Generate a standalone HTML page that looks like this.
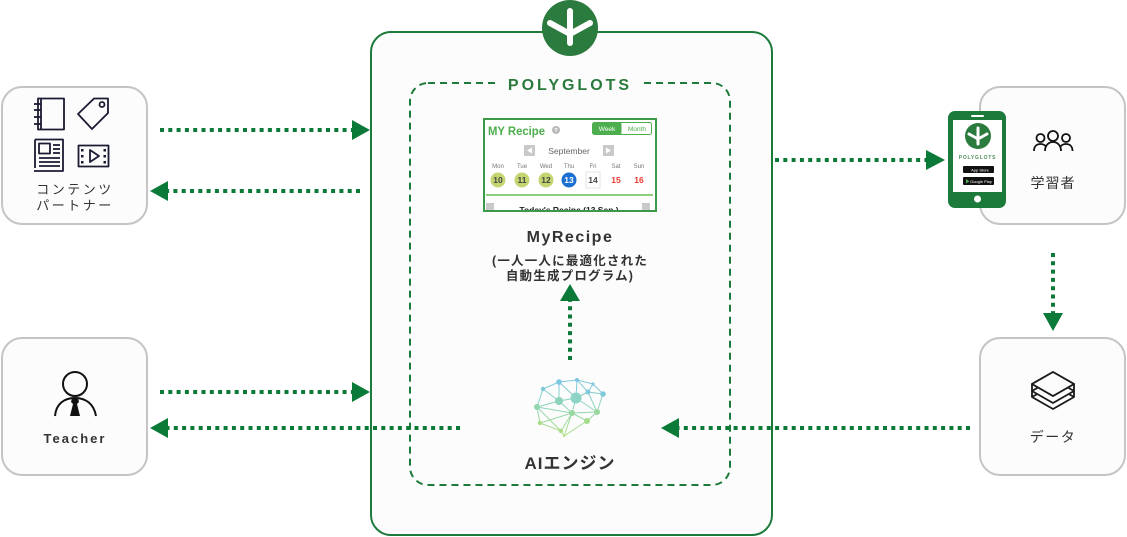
<!DOCTYPE html>
<html>
<head>
<meta charset="utf-8">
<style>
  html,body{margin:0;padding:0;background:#ffffff;}
  body{width:1127px;height:537px;overflow:hidden;}
  svg{display:block;}
  .jp{font-family:"Liberation Sans","Noto Sans CJK JP",sans-serif;}
</style>
</head>
<body>
<svg width="1127" height="537" viewBox="0 0 1127 537" xmlns="http://www.w3.org/2000/svg">
  <defs>
    <linearGradient id="brainG" gradientUnits="userSpaceOnUse" x1="0" y1="378" x2="0" y2="438">
      <stop offset="0" stop-color="#7cc7e2"/>
      <stop offset="0.5" stop-color="#8fd4b8"/>
      <stop offset="1" stop-color="#b2e07c"/>
    </linearGradient>
    <clipPath id="shotClip"><rect x="484" y="119" width="172" height="92"/></clipPath>
  </defs>

  <!-- Main box -->
  <rect x="371" y="32" width="401" height="503" rx="20" ry="20" fill="#fcfcfc" stroke="#1c7a3a" stroke-width="2"/>

  <!-- Logo circle -->
  <circle cx="570" cy="28" r="28" fill="#2b7b3f"/>
  <g stroke="#ffffff" stroke-width="6" stroke-linecap="round" fill="none">
    <line x1="570" y1="11" x2="570" y2="43"/>
    <line x1="570" y1="34" x2="550" y2="23"/>
    <line x1="570" y1="34" x2="590" y2="23"/>
  </g>

  <!-- Inner dashed box -->
  <rect x="410" y="83" width="320" height="402" rx="18" ry="18" fill="none" stroke="#1c7a3a" stroke-width="2" stroke-dasharray="7 5"/>
  <rect x="500" y="72" width="140" height="22" fill="#fcfcfc"/>
  <text x="570" y="90" text-anchor="middle" font-family="Liberation Sans, sans-serif" font-weight="bold" font-size="16" letter-spacing="3" fill="#2a7a3e">POLYGLOTS</text>

  <!-- MyRecipe screenshot -->
  <g clip-path="url(#shotClip)">
    <rect x="484" y="119" width="172" height="92" fill="#ffffff"/>
    <text x="488" y="135" font-family="Liberation Sans, sans-serif" font-weight="bold" font-size="12" textLength="57" lengthAdjust="spacingAndGlyphs" fill="#4cae4c">MY Recipe</text>
    <circle cx="556" cy="130" r="4" fill="#b8b8b8"/>
    <text x="556" y="132.5" text-anchor="middle" font-family="Liberation Sans, sans-serif" font-size="6" font-weight="bold" fill="#ffffff">?</text>
    <rect x="592.5" y="122.5" width="59" height="12" rx="2" fill="#ffffff" stroke="#4cae4c" stroke-width="1"/>
    <rect x="592.5" y="122.5" width="29" height="12" rx="2" fill="#4cae4c"/>
    <text x="607" y="131" text-anchor="middle" font-family="Liberation Sans, sans-serif" font-size="6.5" fill="#ffffff">Week</text>
    <text x="637" y="131" text-anchor="middle" font-family="Liberation Sans, sans-serif" font-size="6.5" fill="#4cae4c">Month</text>
    <rect x="524" y="145" width="11" height="11" fill="#c9c9c9"/>
    <polygon points="532,147.5 527,150.5 532,153.5" fill="#ffffff"/>
    <rect x="603" y="145" width="11" height="11" fill="#c9c9c9"/>
    <polygon points="606,147.5 611,150.5 606,153.5" fill="#ffffff"/>
    <text x="569" y="154" text-anchor="middle" font-family="Liberation Sans, sans-serif" font-size="8.5" fill="#666">September</text>
    <g font-family="Liberation Sans, sans-serif" font-size="6" fill="#777" text-anchor="middle">
      <text x="498" y="168">Mon</text><text x="522" y="168">Tue</text><text x="546" y="168">Wed</text>
      <text x="569" y="168">Thu</text><text x="593" y="168">Fri</text><text x="616" y="168">Sat</text><text x="639" y="168">Sun</text>
    </g>
    <circle cx="498" cy="180" r="7.5" fill="#c3d672"/>
    <circle cx="522" cy="180" r="7.5" fill="#c3d672"/>
    <circle cx="546" cy="180" r="7.5" fill="#c3d672"/>
    <circle cx="569" cy="180" r="7.5" fill="#1b6fd0"/>
    <rect x="586" y="172" width="14" height="16" fill="#ffffff" stroke="#dddddd" stroke-width="0.8"/>
    <g font-family="Liberation Sans, sans-serif" font-size="8.5" font-weight="bold" text-anchor="middle">
      <text x="498" y="183" fill="#444">10</text><text x="522" y="183" fill="#444">11</text><text x="546" y="183" fill="#444">12</text>
      <text x="569" y="183" fill="#ffffff">13</text><text x="593" y="183" fill="#444">14</text>
      <text x="616" y="183" fill="#e8382b">15</text><text x="639" y="183" fill="#e8382b">16</text>
    </g>
    <line x1="486" y1="195" x2="653" y2="195" stroke="#8ccf7a" stroke-width="2"/>
    <rect x="486" y="203" width="8" height="10" fill="#c9c9c9"/>
    <rect x="642" y="203" width="8" height="10" fill="#c9c9c9"/>
    <text x="569" y="213" text-anchor="middle" font-family="Liberation Sans, sans-serif" font-size="8.5" font-weight="bold" fill="#222">Today's Recipe (13 Sep.)</text>
  </g>
  <rect x="484" y="119" width="172" height="92" fill="none" stroke="#3a9a4a" stroke-width="2"/>

  <!-- MyRecipe labels -->
  <text x="570" y="242" text-anchor="middle" class="jp" font-weight="bold" font-size="16" letter-spacing="1.5" fill="#333">MyRecipe</text>
  <text x="570" y="265" text-anchor="middle" class="jp" font-weight="bold" font-size="12.5" letter-spacing="1.2" fill="#333">(一人一人に最適化された</text>
  <text x="570" y="280" text-anchor="middle" class="jp" font-weight="bold" font-size="12.5" letter-spacing="1.2" fill="#333">自動生成プログラム)</text>

  <!-- AI brain -->
  <g stroke="url(#brainG)" stroke-width="1" fill="none">
    <path d="M543,389 L559,382 L577,380 L593,384 L603,394 M543,389 L559,401 M559,382 L559,401 M559,382 L576,398 M577,380 L576,398 M577,380 L588,392 M593,384 L588,392 M588,392 L603,394 M588,392 L576,398 M603,394 L597,412 M576,398 L559,401 M559,401 L537,407 M543,389 L537,407 M576,398 L572,413 M559,401 L572,413 M537,407 L572,413 M572,413 L597,412 M576,398 L597,412 M588,392 L597,412 M537,407 L540,423 M572,413 L540,423 M572,413 L561,431 M572,413 L587,421 M597,412 L587,421 M540,423 L561,431 M561,431 L564,436 M572,413 L564,436 M587,421 L564,436 M537,407 L561,431"/>
  </g>
  <g>
    <circle cx="559" cy="382" r="2.8" fill="#7cc7e2"/>
    <circle cx="577" cy="380" r="2" fill="#7cc7e2"/>
    <circle cx="593" cy="384" r="1.6" fill="#7cc7e2"/>
    <circle cx="543" cy="389" r="2.2" fill="#80c9dc"/>
    <circle cx="588" cy="392" r="2.5" fill="#80c9dc"/>
    <circle cx="603" cy="394" r="2.8" fill="#80c9dc"/>
    <circle cx="576" cy="398" r="5.5" fill="#8dd3c6"/>
    <circle cx="559" cy="401" r="4" fill="#8dd3bb"/>
    <circle cx="537" cy="407" r="3" fill="#92d6ad"/>
    <circle cx="572" cy="413" r="3" fill="#98d89e"/>
    <circle cx="597" cy="412" r="3" fill="#98d89e"/>
    <circle cx="587" cy="421" r="3" fill="#a4dc8a"/>
    <circle cx="540" cy="423" r="2.2" fill="#aade86"/>
    <circle cx="561" cy="431" r="2.2" fill="#aade86"/>
    <circle cx="564" cy="436" r="1" fill="#b2e07c"/>
  </g>
  <text x="570" y="469" text-anchor="middle" class="jp" font-weight="bold" font-size="17" letter-spacing="1" fill="#333">AIエンジン</text>

  <!-- Left boxes -->
  <rect x="2" y="87" width="145" height="137" rx="20" ry="20" fill="#fcfcfc" stroke="#c4c4c4" stroke-width="2"/>
  <rect x="2" y="338" width="145" height="137" rx="20" ry="20" fill="#fcfcfc" stroke="#c4c4c4" stroke-width="2"/>

  <!-- Content partner icons -->
  <g stroke="#1a1a33" stroke-width="1.8" fill="none" stroke-linejoin="round">
    <rect x="38" y="98.5" width="26" height="31"/>
    <line x1="41" y1="98.5" x2="41" y2="129.5"/>
    <line x1="34" y1="104" x2="41" y2="104"/><line x1="34" y1="110" x2="41" y2="110"/>
    <line x1="34" y1="117" x2="41" y2="117"/><line x1="34" y1="124" x2="41" y2="124"/>
    <path d="M78,114 L94,98.5 L108,98.5 L108,113 L92,129 Z"/>
    <circle cx="102" cy="104.5" r="2.5"/>
    <path d="M35,139.5 L63,139.5 L63,171 L34,171"/>
    <line x1="35" y1="139.5" x2="35" y2="168"/>
    <rect x="39" y="143.5" width="11" height="10"/>
    <line x1="53" y1="145" x2="60" y2="145"/><line x1="53" y1="149" x2="60" y2="149"/><line x1="53" y1="153" x2="60" y2="153"/>
    <line x1="39" y1="158" x2="60" y2="158"/><line x1="39" y1="162" x2="60" y2="162"/><line x1="39" y1="166" x2="60" y2="166"/>
    <rect x="78.5" y="145.5" width="30" height="21"/>
    <path d="M90,150 L99,156 L90,162 Z"/>
  </g>
  <g fill="#1a1a33">
    <rect x="81" y="149" width="2.5" height="2.5"/><rect x="81" y="155" width="2.5" height="2.5"/><rect x="81" y="161" width="2.5" height="2.5"/>
    <rect x="103.5" y="149" width="2.5" height="2.5"/><rect x="103.5" y="155" width="2.5" height="2.5"/><rect x="103.5" y="161" width="2.5" height="2.5"/>
  </g>
  <text x="75" y="194" text-anchor="middle" class="jp" font-size="13" letter-spacing="2.5" fill="#333">コンテンツ</text>
  <text x="75" y="210" text-anchor="middle" class="jp" font-size="13" letter-spacing="2.5" fill="#333">パートナー</text>

  <!-- Teacher icon -->
  <g stroke="#111" stroke-width="2" fill="none">
    <circle cx="75" cy="384" r="12"/>
    <path d="M55,416 C56,404 64,398 75,398 C86,398 94,404 96,416"/>
  </g>
  <polygon points="72,398 78,398 79,402 77,404 80,416 70,416 73,404 71,402" fill="#111"/>
  <text x="75" y="443" text-anchor="middle" font-family="Liberation Sans, sans-serif" font-weight="bold" font-size="13" letter-spacing="2" fill="#333">Teacher</text>

  <!-- Right boxes -->
  <rect x="980" y="87" width="145" height="137" rx="20" ry="20" fill="#fcfcfc" stroke="#c4c4c4" stroke-width="2"/>
  <rect x="980" y="338" width="145" height="137" rx="20" ry="20" fill="#fcfcfc" stroke="#c4c4c4" stroke-width="2"/>

  <!-- People icon -->
  <g stroke="#111" stroke-width="1.8" fill="#fcfcfc">
    <circle cx="1040.5" cy="138" r="4"/>
    <path d="M1034,151 C1034,146 1037,144 1040.5,144 C1044,144 1047,146 1047,151"/>
    <circle cx="1066" cy="138" r="4"/>
    <path d="M1059.5,151 C1059.5,146 1062.5,144 1066,144 C1069.5,144 1072.5,146 1072.5,151"/>
    <circle cx="1053" cy="136" r="5"/>
    <path d="M1045,151 C1045,145 1049,142 1053,142 C1057,142 1061,145 1061,151"/>
  </g>
  <text x="1053" y="188" text-anchor="middle" class="jp" font-size="14" letter-spacing="1" fill="#333">学習者</text>

  <!-- Layers icon -->
  <g stroke="#1a1a1a" stroke-width="1.8" fill="#fcfcfc" stroke-linejoin="round">
    <path d="M1032,397 L1053,409 L1074,397 L1053,385 Z"/>
    <path d="M1032,391 L1053,403 L1074,391 L1053,379 Z"/>
    <path d="M1032,384 L1053,396 L1074,384 L1053,372 Z"/>
    <path d="M1032,384 L1032,397 M1074,384 L1074,397" fill="none"/>
  </g>
  <path d="M1032,384 L1053,396 L1074,384 L1053,372 Z" fill="#fcfcfc" stroke="#1a1a1a" stroke-width="1.8" stroke-linejoin="round"/>
  <text x="1053" y="442" text-anchor="middle" class="jp" font-size="14" letter-spacing="1.5" fill="#333">データ</text>

  <!-- Phone -->
  <rect x="948" y="111" width="58" height="97" rx="7" ry="7" fill="#1c7a3a"/>
  <rect x="953" y="120" width="49" height="72" fill="#ffffff"/>
  <rect x="971" y="115" width="13" height="2" rx="1" fill="#ffffff"/>
  <circle cx="977.5" cy="199" r="3.5" fill="#ffffff"/>
  <circle cx="978" cy="136" r="13" fill="#2b7b3f"/>
  <g stroke="#ffffff" stroke-width="3" stroke-linecap="round" fill="none">
    <line x1="978" y1="128" x2="978" y2="144"/>
    <line x1="978" y1="139" x2="969" y2="134"/>
    <line x1="978" y1="139" x2="987" y2="134"/>
  </g>
  <text x="977.5" y="159" text-anchor="middle" font-family="Liberation Sans, sans-serif" font-size="5" font-weight="bold" letter-spacing="0.8" fill="#4e8f5a">POLYGLOTS</text>
  <rect x="963" y="166" width="31" height="7" rx="1" fill="#111"/>
  <text x="980" y="171.5" text-anchor="middle" font-family="Liberation Sans, sans-serif" font-size="4" fill="#fff">App Store</text>
  <rect x="963" y="177" width="31" height="8" rx="1" fill="#111"/>
  <text x="981" y="183" text-anchor="middle" font-family="Liberation Sans, sans-serif" font-size="4" fill="#fff">Google Play</text>
  <polygon points="966,179 966,183.5 969.5,181.2" fill="#4caf50"/>

  <!-- Connectors -->
  <g stroke="#0b7a38" stroke-width="4" stroke-dasharray="4 4.3" fill="none">
    <line x1="160" y1="130" x2="352" y2="130"/>
    <line x1="360" y1="191" x2="168" y2="191"/>
    <line x1="160" y1="392" x2="352" y2="392"/>
    <line x1="460" y1="428" x2="168" y2="428"/>
    <line x1="970" y1="428" x2="679" y2="428"/>
    <line x1="570" y1="360" x2="570" y2="301"/>
    <line x1="775" y1="160" x2="926" y2="160"/>
    <line x1="1053" y1="253" x2="1053" y2="313"/>
  </g>
  <g fill="#0b7a38">
    <polygon points="352,120 370,130 352,140"/>
    <polygon points="168,181 150,191 168,201"/>
    <polygon points="352,382 370,392 352,402"/>
    <polygon points="168,418 150,428 168,438"/>
    <polygon points="679,418 661,428 679,438"/>
    <polygon points="560,301 570,284 580,301"/>
    <polygon points="926,150 945,160 926,170"/>
    <polygon points="1043,313 1063,313 1053,331"/>
  </g>
</svg>
</body>
</html>
